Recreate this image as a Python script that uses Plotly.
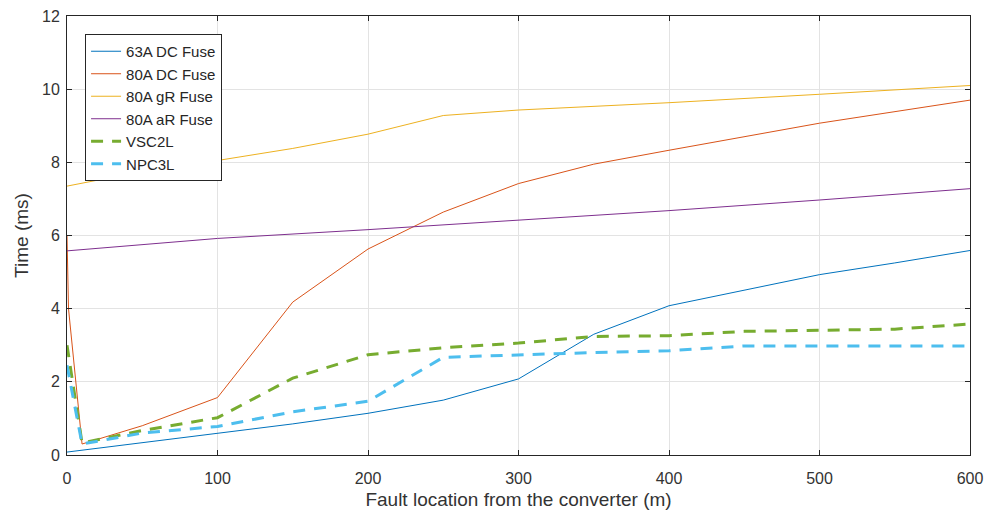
import plotly.graph_objects as go

# Fuse curves
x_fuse = [0, 100, 150, 200, 250, 300, 350, 400, 450, 500, 550, 600]
fuse63_dc = [0.08, 0.6, 0.85, 1.14, 1.5, 2.08, 3.3, 4.08, 4.5, 4.93, 5.25, 5.59]

x_fuse80 = [0, 1, 10, 50, 100, 150, 200, 250, 300, 350, 400, 450, 500, 600]
fuse80_dc = [6.0, 4.0, 0.3, 0.8, 1.57, 4.18, 5.63, 6.64, 7.42, 7.95, 8.33, 8.7, 9.07, 9.7]

x_gr = [0, 50, 100, 150, 200, 250, 300, 400, 500, 600]
fuse80_gr = [7.35, 7.75, 8.05, 8.38, 8.77, 9.28, 9.43, 9.63, 9.86, 10.1]

x_ar = [0, 100, 200, 300, 400, 500, 600]
fuse80_ar = [5.58, 5.92, 6.16, 6.41, 6.68, 6.97, 7.28]

# Converter curves
x_conv = [0, 10, 50, 100, 150, 200, 250, 300, 350, 400, 450, 500, 550, 600]
vsc2l = [3.0, 0.33, 0.67, 1.02, 2.1, 2.74, 2.93, 3.06, 3.24, 3.26, 3.38, 3.4, 3.44, 3.58]
npc3l = [2.45, 0.3, 0.6, 0.78, 1.18, 1.47, 2.67, 2.74, 2.8, 2.85, 2.98, 2.98, 2.98, 2.98]

x_ticks = [0, 100, 200, 300, 400, 500, 600]
y_ticks = [0, 2, 4, 6, 8, 10, 12]

fig = go.Figure()
fig.add_trace(go.Scatter(x=x_fuse, y=fuse63_dc, mode="lines", name="63A DC Fuse",
                         line=dict(color="#0072BD", width=1)))
fig.add_trace(go.Scatter(x=x_fuse80, y=fuse80_dc, mode="lines", name="80A DC Fuse",
                         line=dict(color="#D95319", width=1)))
fig.add_trace(go.Scatter(x=x_gr, y=fuse80_gr, mode="lines", name="80A gR Fuse",
                         line=dict(color="#EDB120", width=1)))
fig.add_trace(go.Scatter(x=x_ar, y=fuse80_ar, mode="lines", name="80A aR Fuse",
                         line=dict(color="#7E2F8E", width=1)))
fig.add_trace(go.Scatter(x=x_conv, y=vsc2l, mode="lines", name="VSC2L",
                         line=dict(color="#77AC30", width=3, dash="12px,9px")))
fig.add_trace(go.Scatter(x=x_conv, y=npc3l, mode="lines", name="NPC3L",
                         line=dict(color="#4DBEEE", width=3, dash="12px,9px")))

axis_common = dict(
    showline=True, linecolor="#262626", linewidth=1, mirror="ticks",
    ticks="inside", ticklen=5, tickcolor="#262626",
    showgrid=True, gridcolor="#e3e3e3", gridwidth=1, zeroline=False,
    automargin=False,
    tickfont=dict(family="Liberation Sans, Arial", size=16, color="#333333"),
)

fig.update_layout(
    width=986, height=513,
    margin=dict(l=67, r=16, t=16, b=58),
    paper_bgcolor="white", plot_bgcolor="white",
    font=dict(family="Liberation Sans, Arial", color="#262626"),
    xaxis=dict(range=[0, 600], tickvals=x_ticks, ticklabelstandoff=9,
               title=dict(text="Fault location from the converter (m)",
                          font=dict(size=19, color="#333333"), standoff=6),
               **axis_common),
    yaxis=dict(range=[0, 12], tickvals=y_ticks, ticklabelstandoff=3,
               title=dict(text="Time (ms)", font=dict(size=19, color="#333333"), standoff=8),
               **axis_common),
    legend=dict(x=0.02, y=0.959, xanchor="left", yanchor="top",
                bgcolor="white", bordercolor="#262626", borderwidth=1,
                font=dict(size=15, color="#262626"), tracegroupgap=0),
    showlegend=True,
)

fig.write_html("out.html", config={"displayModeBar": False},
               post_script="document.body.style.margin='0';")
